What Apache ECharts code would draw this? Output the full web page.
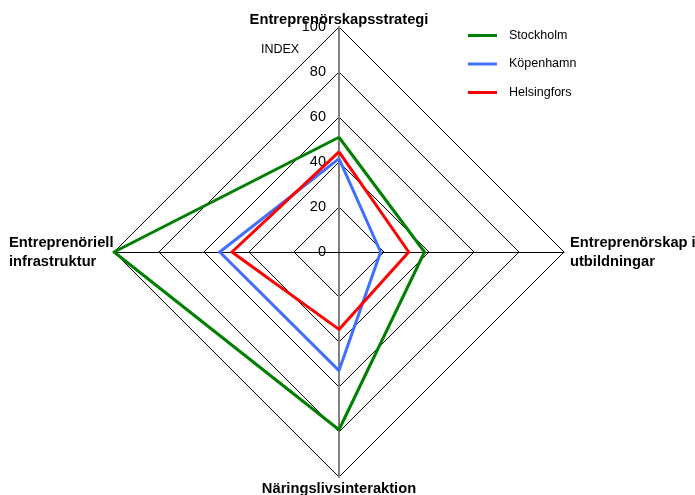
<!DOCTYPE html>
<html>
<head>
<meta charset="utf-8">
<script src="https://cdn.jsdelivr.net/npm/echarts@6/dist/echarts.min.js"></script>
<style>
html,body{margin:0;padding:0;background:#fff;}
#c{width:695px;height:495px;}
</style>
</head>
<body>
<div id="c"></div>
<script>
// Indicators in drawing order (top, left, bottom, right)
var categories = ['Entreprenörskapsstrategi', 'Entreprenöriell\ninfrastruktur', 'Näringslivsinteraktion', 'Entreprenörskap i\nutbildningar'];
var seriesNames = ['Stockholm', 'Köpenhamn', 'Helsingfors'];
var stockholm = [51, 100, 79, 38];
var kopenhamn = [41.5, 53, 52.7, 18.5];
var helsingfors = [44.5, 47.6, 34.4, 31];
var tickMin = 0, tickMax = 100, tickStep = 20;
var axisTitle = 'INDEX';

var colors = ['#008000', '#3f6fff', '#ff0000'];
var values = [stockholm, kopenhamn, helsingfors];
var FONT = 'Liberation Sans, Arial, sans-serif';
var C = [339, 252], R = 225;
var nameStyleKeys = ['t', 'l', 'b', 'r'];

// axis spokes: up and down gray (with labels on the upper one), left and right black
var spokes = [
  {start: 90, color: '#808080', width: 2, labels: true},
  {start: 270, color: '#808080', width: 2, labels: false},
  {start: 0, color: '#000', width: 1, labels: false},
  {start: 180, color: '#000', width: 1, labels: false}
];
var nameBase = {fontSize: 14.7, fontWeight: 'bold', fontFamily: FONT, color: '#000'};
function ns(extra) { return Object.assign({}, nameBase, extra); }

var chart = echarts.init(document.getElementById('c'), null, {renderer: 'canvas'});
var option = {
  animation: false,
  backgroundColor: '#fff',
  textStyle: {fontFamily: FONT},
  legend: {
    orient: 'vertical',
    left: 463, top: 24,
    itemWidth: 29, itemHeight: 3, itemGap: 15.5,
    icon: 'rect',
    data: seriesNames,
    textStyle: {fontSize: 12.5, color: '#000', fontFamily: FONT, padding: [0, 0, 0, 7]}
  },
  radar: {
    center: C, radius: R, startAngle: 90,
    shape: 'polygon', splitNumber: 5,
    z: 0,
    indicator: categories.map(function (n) { return {name: n, min: tickMin, max: tickMax}; }),
    axisName: {
      color: '#000', fontSize: 14.7, fontWeight: 'bold', fontFamily: FONT,
      formatter: function (name) {
        var k = nameStyleKeys[categories.indexOf(name)];
        return name.split('\n').map(function (s) { return '{' + k + '|' + s + '}'; }).join('\n');
      },
      rich: {
        t: ns({lineHeight: 14}),
        b: ns({lineHeight: 24}),
        l: ns({lineHeight: 19, width: 105, align: 'left'}),
        r: ns({lineHeight: 19, padding: [0, 0, 0, 6]})
      }
    },
    nameGap: 0,
    axisLine: {show: false},
    splitLine: {lineStyle: {color: '#000', width: 1}},
    splitArea: {show: false},
    axisTick: {show: false},
    axisLabel: {show: false}
  },
  polar: spokes.map(function () { return {center: C, radius: R}; }),
  angleAxis: spokes.map(function (s, i) {
    return {polarIndex: i, type: 'value', startAngle: s.start, min: 0, max: 360, show: false};
  }),
  radiusAxis: spokes.map(function (s, i) {
    return {polarIndex: i, type: 'value', min: tickMin, max: tickMax, interval: tickStep, z: 1,
      axisLine: {show: true, lineStyle: {color: s.color, width: s.width}},
      axisTick: {show: false}, splitLine: {show: false},
      axisLabel: {show: s.labels, color: '#000', fontSize: 14.5, fontFamily: FONT, margin: 13}};
  }),
  graphic: [{type: 'text', left: 261, top: 43, style: {text: axisTitle, fill: '#000', font: '12.5px ' + FONT}}],
  series: [{
    type: 'radar', z: 3, symbol: 'none',
    data: seriesNames.map(function (n, i) {
      return {name: n, value: values[i], lineStyle: {color: colors[i], width: 3}, itemStyle: {color: colors[i]}};
    })
  }]
};
chart.setOption(option);
</script>
</body>
</html>
